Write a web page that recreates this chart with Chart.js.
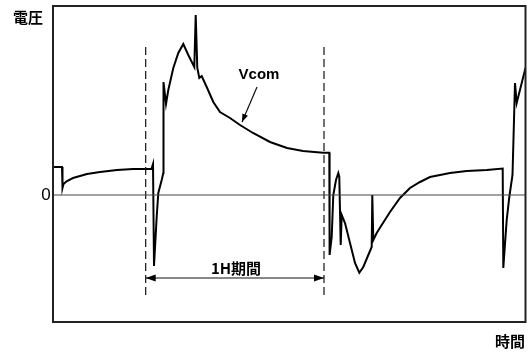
<!DOCTYPE html>
<html>
<head>
<meta charset="utf-8">
<script src="https://cdn.jsdelivr.net/npm/chart.js@4/dist/chart.umd.min.js"></script>
<style>
html,body{margin:0;padding:0;background:#fff;}
#wrap{width:528px;height:355px;position:relative;}
</style>
</head>
<body>
<div id="wrap"><canvas id="c" width="528" height="355"></canvas></div>
<script>
// Time (arbitrary units) and Vcom voltage (arbitrary units, 0 = reference level)
const timeX = [0,9,9.5,10.5,14,20,27,34,47,64,80,98.5,100,101,103.7,105.3,108.7,110.3,110.5,113,115.3,120.3,125.3,130.3,135.3,141.3,142.7,144.3,146.3,148.7,153.7,160.3,167,177,187,200,217,234,250,270,276.3,276.6,278.7,280.3,283,285.3,286.3,287.7,288.7,292,297,302,306.3,310.3,315.3,318.7,319.3,320.3,323.7,328.7,337,347,357,367,377,397,413.7,433.7,449.7,450.3,453.7,456.3,459.5,462,463.7,472.5];
const vcomY = [28,28,7,11,14,17,19,21,23,25,26,26.3,31,-71,-21.7,2,15,22,113,91,105,127,142,151,140,128,180,127,117,119,108,93,83,77,70,62,53,47,44,42.3,42.3,-60,-42,0,15,22,18,-50,-20,-28,-48,-68,-77.7,-72,-60,-52,0,-45,-38,-30,-17,-3,7,13,18,22,24,25,26.5,-73,-25,-2,20,112,92,127];
const xRange = [0, 472.5];
const yRange = [-127, 189];
const periodX = [92.7, 271];      // 1H period boundaries (dashed lines)
const dashY = [148, -100];        // vertical extent of dashed lines
const periodArrowY = [-83];       // level of the 1H arrow
const vcomArrowX = [204, 189];    // Vcom label pointer: start, end
const vcomArrowY = [108, 73];
const labels = {yAxis:'電圧', xAxis:'時間', zero:'0', curve:'Vcom', period:'1H期間'};

const curve = timeX.map((x,i)=>({x:x,y:vcomY[i]}));
const datasets = [
  {data:[{x:xRange[0],y:0},{x:xRange[1],y:0}], borderColor:'#444', borderWidth:1},
  {data:[{x:periodX[0],y:dashY[0]},{x:periodX[0],y:dashY[1]}], borderColor:'#111', borderWidth:1.2, borderDash:[8,4]},
  {data:[{x:periodX[1],y:dashY[0]},{x:periodX[1],y:dashY[1]}], borderColor:'#111', borderWidth:1.2, borderDash:[8,4]},
  {data:[{x:periodX[0],y:periodArrowY[0]},{x:periodX[1],y:periodArrowY[0]}], borderColor:'#111', borderWidth:1.2},
  {data:[{x:vcomArrowX[0],y:vcomArrowY[0]},{x:vcomArrowX[1],y:vcomArrowY[1]}], borderColor:'#111', borderWidth:1.2},
  {data:curve, borderColor:'#000', borderWidth:2}
];
datasets.forEach(d=>{d.showLine=true;d.pointRadius=0;d.fill=false;d.tension=0;});

function head(ctx, x1,y1,x2,y2, len, half){
  const a = Math.atan2(y2-y1, x2-x1);
  ctx.beginPath();
  ctx.moveTo(x2,y2);
  ctx.lineTo(x2-len*Math.cos(a)+half*Math.sin(a), y2-len*Math.sin(a)-half*Math.cos(a));
  ctx.lineTo(x2-len*Math.cos(a)-half*Math.sin(a), y2-len*Math.sin(a)+half*Math.cos(a));
  ctx.closePath();
  ctx.fill();
}

const deco = {
  id:'deco',
  afterDraw(chart){
    const ctx = chart.ctx, a = chart.chartArea, sx = chart.scales.x, sy = chart.scales.y;
    ctx.save();
    // frame
    ctx.strokeStyle = '#222'; ctx.lineWidth = 2;
    ctx.strokeRect(a.left, a.top, a.right-a.left, a.bottom-a.top);
    ctx.fillStyle = '#000';
    // period arrowheads
    const ay = sy.getPixelForValue(periodArrowY[0]);
    const p0 = sx.getPixelForValue(periodX[0]), p1 = sx.getPixelForValue(periodX[1]);
    head(ctx, p1, ay, p0, ay, 10, 3.5);
    head(ctx, p0, ay, p1, ay, 10, 3.5);
    // Vcom pointer head
    head(ctx, sx.getPixelForValue(vcomArrowX[0]), sy.getPixelForValue(vcomArrowY[0]),
              sx.getPixelForValue(vcomArrowX[1]), sy.getPixelForValue(vcomArrowY[1]), 8, 3);
    // texts
    ctx.textBaseline = 'middle';
    ctx.font = 'bold 15px "Noto Sans CJK JP"';
    ctx.textAlign = 'right';
    ctx.fillText(labels.yAxis, 43, 17);
    ctx.fillText(labels.xAxis, 525, 341);
    ctx.font = '17px "Liberation Sans Narrow", "Liberation Sans"';
    ctx.textAlign = 'center';
    ctx.fillText(labels.zero, 46, sy.getPixelForValue(0)+0.5);
    ctx.font = 'bold 15px "Liberation Sans Narrow", "Liberation Sans"';
    ctx.fillText(labels.curve, sx.getPixelForValue(206), sy.getPixelForValue(120));
    ctx.font = 'bold 15px "Noto Sans CJK JP"';
    ctx.fillText(labels.period, sx.getPixelForValue(183), sy.getPixelForValue(-73.5));
    ctx.restore();
  }
};

new Chart(document.getElementById('c'), {
  type:'scatter',
  data:{datasets:datasets},
  options:{
    responsive:false, animation:false,
    layout:{padding:{left:53, top:6, right:2.5, bottom:33}},
    plugins:{legend:{display:false}, tooltip:{enabled:false}},
    scales:{
      x:{type:'linear', display:false, min:xRange[0], max:xRange[1]},
      y:{type:'linear', display:false, min:yRange[0], max:yRange[1]}
    }
  },
  plugins:[deco]
});
</script>
</body>
</html>
